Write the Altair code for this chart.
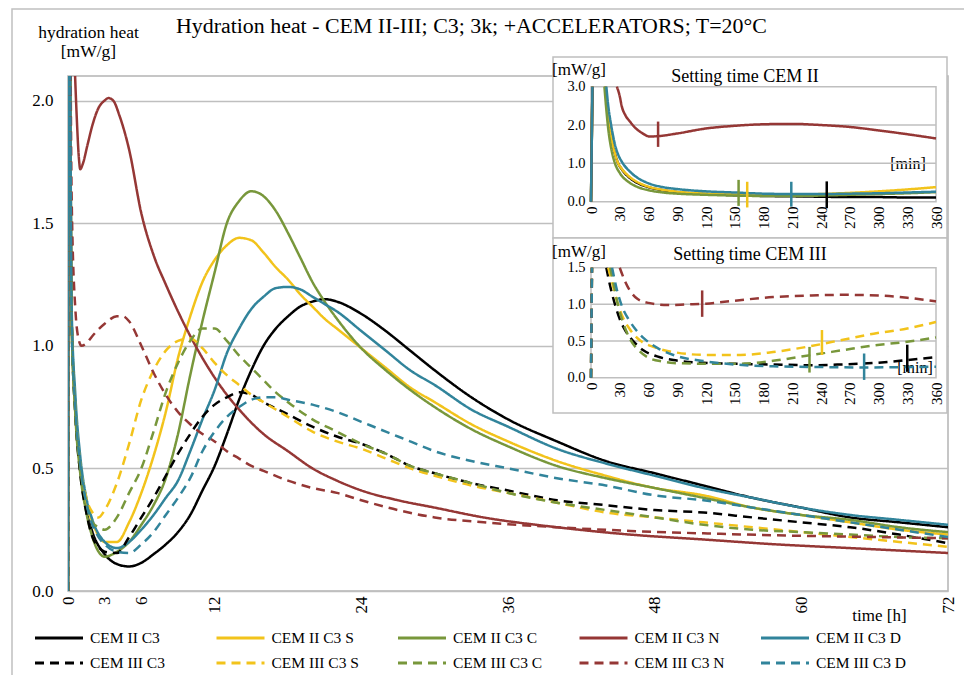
import altair as alt
import pandas as pd

FONT = "Liberation Serif"
GRID = "#BFBFBF"

series = ["CEM II C3", "CEM II C3 S", "CEM II C3 C", "CEM II C3 N", "CEM II C3 D",
          "CEM III C3", "CEM III C3 S", "CEM III C3 C", "CEM III C3 N", "CEM III C3 D"]
colors = ["#000000", "#F2C31B", "#78973B", "#953735", "#31849B"] * 2
dashes = [[1, 0]] * 5 + [[9, 6]] * 5
legend_col = [0, 1, 2, 3, 4, 0, 1, 2, 3, 4]
legend_row = [0, 0, 0, 0, 0, 1, 1, 1, 1, 1]

# ---------------- main chart (time in hours) ----------------
x_ticks_h = [0, 3, 6, 12, 24, 36, 48, 60, 72]
y_ticks_main = [0, 0.5, 1.0, 1.5, 2.0]

t_ii = [0, 0.05, 0.3, 0.6, 1, 1.5, 2, 3, 4, 5, 6, 7, 8, 9, 10, 11, 12, 13, 14, 15, 16, 17, 18, 19, 20, 21, 22,
        24, 26, 28, 30, 33, 36, 40, 44, 48, 52, 56, 60, 64, 68, 72]
v_ii_c3 = [0, 3.2, 1.1, 0.75, 0.5, 0.33, 0.24, 0.15, 0.11, 0.1, 0.115, 0.15, 0.19, 0.24, 0.31, 0.41, 0.51, 0.64,
           0.78, 0.9, 1.0, 1.07, 1.12, 1.16, 1.18, 1.19, 1.18, 1.13, 1.06, 0.98, 0.9, 0.79, 0.7, 0.61, 0.53, 0.48,
           0.43, 0.38, 0.34, 0.3, 0.28, 0.26]
v_ii_c3_s = [0, 3.2, 1.1, 0.75, 0.52, 0.36, 0.28, 0.2, 0.2, 0.28, 0.4, 0.55, 0.73, 0.95, 1.12, 1.26, 1.35, 1.41,
             1.44, 1.43, 1.38, 1.32, 1.27, 1.21, 1.16, 1.11, 1.07, 0.99, 0.91, 0.83, 0.77, 0.68, 0.61, 0.53, 0.47,
             0.42, 0.39, 0.34, 0.31, 0.28, 0.25, 0.23]
v_ii_c3_c = [0, 3.2, 1.1, 0.72, 0.48, 0.32, 0.22, 0.14, 0.16, 0.2, 0.27, 0.35, 0.46, 0.64, 0.88, 1.1, 1.3, 1.5,
             1.59, 1.63, 1.61, 1.55, 1.46, 1.36, 1.26, 1.18, 1.11, 0.99, 0.9, 0.82, 0.75, 0.66, 0.59, 0.51, 0.46,
             0.42, 0.38, 0.34, 0.31, 0.29, 0.26, 0.24]
v_ii_c3_d = [0, 3.2, 1.15, 0.8, 0.55, 0.38, 0.29, 0.2, 0.175, 0.2, 0.25, 0.31, 0.38, 0.45, 0.57, 0.7, 0.82, 0.97,
             1.07, 1.15, 1.2, 1.235, 1.24, 1.23, 1.2, 1.17, 1.14, 1.06, 0.98, 0.9, 0.84, 0.74, 0.67, 0.58, 0.52,
             0.47, 0.42, 0.38, 0.34, 0.31, 0.29, 0.27]

t_ii_n = [0, 0.05, 0.45, 0.7, 0.9, 1.0, 1.2, 1.6, 2.0, 2.5, 3.0, 3.3, 3.7, 4.2, 5, 6, 7, 8, 9, 10, 11, 12, 13, 14,
          16, 18, 20, 22, 24, 27, 30, 34, 40, 46, 52, 58, 64, 72]
v_ii_c3_n = [0, 3.2, 2.3, 1.95, 1.76, 1.72, 1.74, 1.82, 1.9, 1.97, 2.0, 2.01, 2.0, 1.94, 1.8, 1.54, 1.37, 1.25,
             1.14, 1.04, 0.95, 0.87, 0.8, 0.74, 0.64, 0.57, 0.5, 0.45, 0.41, 0.37, 0.34, 0.3, 0.26, 0.23, 0.21,
             0.19, 0.175, 0.155]

t_iii = [0, 0.05, 0.3, 0.6, 1, 1.5, 2, 2.5, 3, 4, 5, 6, 7, 8, 9, 10, 11, 12, 13, 14, 15, 16, 17, 18, 20, 22, 24,
         26, 28, 30, 33, 36, 40, 44, 48, 52, 56, 60, 64, 68, 72]
v_iii_c3 = [0, 3.2, 1.1, 0.72, 0.48, 0.32, 0.22, 0.18, 0.16, 0.155, 0.22, 0.3, 0.38, 0.47, 0.56, 0.64, 0.71, 0.76,
            0.79, 0.81, 0.8, 0.77, 0.745, 0.72, 0.67, 0.63, 0.6, 0.56, 0.51, 0.48, 0.44, 0.41, 0.37, 0.35, 0.33,
            0.32, 0.3, 0.28, 0.26, 0.23, 0.195]
v_iii_c3_s = [0, 3.2, 1.1, 0.75, 0.52, 0.38, 0.32, 0.3, 0.33, 0.44, 0.6, 0.78, 0.9, 0.98, 1.02, 1.03, 0.99, 0.93,
              0.88, 0.84, 0.8, 0.77, 0.74, 0.71, 0.65, 0.61, 0.58, 0.54, 0.5, 0.47, 0.43, 0.4, 0.36, 0.32, 0.3,
              0.28, 0.26, 0.24, 0.22, 0.2, 0.18]
v_iii_c3_c = [0, 3.2, 1.1, 0.72, 0.5, 0.36, 0.28, 0.26, 0.25, 0.3, 0.4, 0.5, 0.65, 0.81, 0.93, 1.02, 1.07, 1.07,
              1.02, 0.96, 0.91, 0.86, 0.81, 0.77, 0.7, 0.65, 0.6, 0.56, 0.51, 0.48, 0.44, 0.4, 0.36, 0.33, 0.3,
              0.27, 0.25, 0.24, 0.23, 0.22, 0.215]
v_iii_c3_d = [0, 3.2, 1.1, 0.75, 0.52, 0.36, 0.27, 0.22, 0.19, 0.16, 0.155, 0.19, 0.24, 0.31, 0.38, 0.46, 0.57,
              0.65, 0.71, 0.75, 0.78, 0.79, 0.79, 0.78, 0.76, 0.73, 0.69, 0.65, 0.61, 0.57, 0.53, 0.5, 0.46, 0.43,
              0.39, 0.37, 0.34, 0.31, 0.28, 0.25, 0.22]

t_iii_n = [0, 0.05, 0.3, 0.6, 0.9, 1.1, 1.5, 2, 3, 4, 4.5, 5, 6, 7, 8, 9, 10, 11, 12, 13, 14, 15, 16, 18, 20, 22,
           24, 27, 30, 34, 40, 46, 52, 60, 66, 72]
v_iii_c3_n = [0, 3.2, 1.6, 1.15, 1.02, 1.0, 1.01, 1.04, 1.09, 1.12, 1.12, 1.1, 1.0, 0.89, 0.8, 0.73, 0.68, 0.64,
              0.61, 0.57, 0.54, 0.51, 0.49, 0.45, 0.42, 0.4, 0.37, 0.33, 0.3, 0.28, 0.26, 0.245, 0.235, 0.225,
              0.22, 0.215]

main_curves = [
    ("CEM II C3", t_ii, v_ii_c3), ("CEM II C3 S", t_ii, v_ii_c3_s), ("CEM II C3 C", t_ii, v_ii_c3_c),
    ("CEM II C3 N", t_ii_n, v_ii_c3_n), ("CEM II C3 D", t_ii, v_ii_c3_d),
    ("CEM III C3", t_iii, v_iii_c3), ("CEM III C3 S", t_iii, v_iii_c3_s), ("CEM III C3 C", t_iii, v_iii_c3_c),
    ("CEM III C3 N", t_iii_n, v_iii_c3_n), ("CEM III C3 D", t_iii, v_iii_c3_d),
]

# ---------------- inset 1: setting time CEM II (minutes) ----------------
min_ticks = list(range(0, 361, 30))
inset1_y_ticks = [0, 1, 2, 3]
inset1_grid = [1, 2]
spike1_m = [0, 1.5]
spike1_v = [0, 3.0]
i1_c3_m = [15, 17, 19, 22, 25, 28, 32, 40, 50, 60, 75, 90, 120, 150, 180, 210, 240, 270, 300, 330, 360]
i1_c3_v = [3.0, 2.5, 2.0, 1.55, 1.25, 1.02, 0.85, 0.63, 0.47, 0.38, 0.3, 0.25, 0.2, 0.17, 0.15, 0.14, 0.13, 0.12,
           0.12, 0.11, 0.11]
i1_s_m = [15, 17, 19, 22, 25, 28, 32, 40, 50, 60, 75, 90, 120, 150, 180, 210, 240, 270, 300, 330, 360]
i1_s_v = [3.0, 2.5, 2.0, 1.55, 1.25, 1.02, 0.86, 0.65, 0.49, 0.39, 0.31, 0.26, 0.21, 0.19, 0.18, 0.18, 0.2, 0.23,
          0.27, 0.32, 0.38]
i1_c_m = [14, 16, 18, 21, 25, 30, 40, 50, 60, 75, 90, 120, 150, 180, 210, 240, 270, 300, 330, 360]
i1_c_v = [3.0, 2.4, 1.9, 1.4, 1.0, 0.75, 0.5, 0.37, 0.3, 0.24, 0.21, 0.18, 0.16, 0.15, 0.15, 0.16, 0.18, 0.2,
          0.22, 0.25]
i1_n_m = [27, 30, 32, 36, 41, 46, 51, 56, 61, 70, 90, 120, 150, 180, 210, 240, 270, 300, 330, 360]
i1_n_v = [3.0, 2.75, 2.5, 2.25, 2.08, 1.93, 1.83, 1.75, 1.7, 1.71, 1.78, 1.91, 1.98, 2.02, 2.03, 2.0, 1.95, 1.86,
          1.76, 1.65]
i1_d_m = [16, 18, 21, 24, 28, 32, 40, 50, 60, 75, 90, 120, 150, 180, 210, 240, 270, 300, 330, 360]
i1_d_v = [3.0, 2.5, 2.0, 1.6, 1.25, 1.05, 0.8, 0.6, 0.48, 0.38, 0.33, 0.27, 0.24, 0.21, 0.2, 0.2, 0.21, 0.22,
          0.24, 0.26]
inset1_curves = [("CEM II C3", i1_c3_m, i1_c3_v), ("CEM II C3 S", i1_s_m, i1_s_v), ("CEM II C3 C", i1_c_m, i1_c_v),
                 ("CEM II C3 N", i1_n_m, i1_n_v), ("CEM II C3 D", i1_d_m, i1_d_v)]
set1_series = ["CEM II C3 N", "CEM II C3 C", "CEM II C3 S", "CEM II C3 D", "CEM II C3"]
set1_min = [70, 154, 163, 209, 246]
set1_lo = [1.43, -0.11, -0.15, -0.13, -0.17]
set1_hi = [2.09, 0.57, 0.52, 0.52, 0.53]

# ---------------- inset 2: setting time CEM III (minutes) ----------------
inset2_y_ticks = [0, 0.5, 1.0, 1.5]
inset2_grid = [0.5, 1.0]
spike2_m = [0, 1]
spike2_v = [0, 1.5]
i2_c3_m = [16, 20, 25, 30, 36, 44, 55, 69, 86, 121, 150, 190, 230, 260, 295, 330, 360]
i2_c3_v = [1.5, 1.25, 1.0, 0.8, 0.64, 0.5, 0.37, 0.29, 0.24, 0.2, 0.19, 0.18, 0.17, 0.18, 0.2, 0.24, 0.28]
i2_s_m = [18, 22, 27, 33, 40, 51, 65, 86, 121, 156, 190, 225, 260, 295, 330, 360]
i2_s_v = [1.5, 1.3, 1.05, 0.83, 0.67, 0.51, 0.42, 0.35, 0.31, 0.31, 0.35, 0.42, 0.51, 0.6, 0.67, 0.76]
i2_c_m = [20, 24, 28, 33, 41, 50, 62, 75, 86, 121, 156, 190, 225, 260, 295, 330, 360]
i2_c_v = [1.5, 1.25, 1.0, 0.77, 0.52, 0.37, 0.26, 0.22, 0.2, 0.19, 0.19, 0.23, 0.3, 0.37, 0.44, 0.49, 0.55]
i2_n_m = [30, 35, 40, 48, 60, 80, 100, 120, 150, 190, 230, 260, 300, 330, 360]
i2_n_v = [1.5, 1.33, 1.2, 1.08, 1.02, 0.99, 1.0, 1.01, 1.05, 1.1, 1.12, 1.13, 1.12, 1.09, 1.04]
i2_d_m = [22, 27, 33, 40, 47, 55, 70, 86, 121, 150, 190, 240, 285, 330, 360]
i2_d_v = [1.5, 1.2, 0.95, 0.78, 0.65, 0.54, 0.4, 0.31, 0.22, 0.18, 0.155, 0.145, 0.14, 0.145, 0.15]
inset2_curves = [("CEM III C3", i2_c3_m, i2_c3_v), ("CEM III C3 S", i2_s_m, i2_s_v),
                 ("CEM III C3 C", i2_c_m, i2_c_v), ("CEM III C3 N", i2_n_m, i2_n_v),
                 ("CEM III C3 D", i2_d_m, i2_d_v)]
set2_series = ["CEM III C3 N", "CEM III C3 C", "CEM III C3 S", "CEM III C3 D", "CEM III C3"]
set2_min = [116, 228, 241, 285, 330]
set2_lo = [0.83, 0.07, 0.31, -0.03, 0.08]
set2_hi = [1.19, 0.42, 0.65, 0.33, 0.45]

# ---------------- build tables ----------------
main_rows = []
for name, ts, vs in main_curves:
    for t, v in zip(ts, vs):
        main_rows.append({"s": name, "t": t, "v": v})
main_df = pd.DataFrame(main_rows)


def inset_table(curves, sm, sv):
    rows = []
    for name, ms, vs in curves:
        for m, v in zip(sm, sv):
            rows.append({"s": name, "p": "spike", "m": m, "v": v})
        for m, v in zip(ms, vs):
            rows.append({"s": name, "p": "body", "m": m, "v": v})
    return pd.DataFrame(rows)


i1_df = inset_table(inset1_curves, spike1_m, spike1_v)
i2_df = inset_table(inset2_curves, spike2_m, spike2_v)
set1_df = pd.DataFrame({"s": set1_series, "m": set1_min, "lo": set1_lo, "hi": set1_hi})
set2_df = pd.DataFrame({"s": set2_series, "m": set2_min, "lo": set2_lo, "hi": set2_hi})
legend_df = pd.DataFrame({"s": series, "c": legend_col, "r": legend_row})

one = pd.DataFrame({"k": [0]})

# ---------------- shared encodings ----------------
color_enc = alt.Color("s:N", scale=alt.Scale(domain=series, range=colors), legend=None)
dash_enc = alt.StrokeDash("s:N", scale=alt.Scale(domain=series, range=dashes), legend=None)

# ---------------- main layer ----------------
main_lines = alt.Chart(main_df).mark_line(strokeWidth=2.5, clip=True, interpolate="monotone").encode(
    x=alt.X("t:Q", scale=alt.Scale(domain=[0, 72], nice=False, zero=False),
            axis=alt.Axis(orient="bottom", values=x_ticks_h, labelAngle=270, labelFontSize=17,
                          labelPadding=5, ticks=False, domain=False, grid=False, labelOverlap=False,
                          labelFlush=False, title="time [h]", titleFontSize=17, titleFontWeight="normal",
                          titleAngle=0, titleX=811, titleY=24, titleAlign="center",
                          titleBaseline="middle")),
    y=alt.Y("v:Q", scale=alt.Scale(domain=[0, 2.1], nice=False),
            axis=alt.Axis(orient="left", values=y_ticks_main, format=".1f", labelFontSize=17,
                          labelPadding=15, ticks=False, domain=False, grid=True, gridColor=GRID,
                          gridWidth=1.5, labelOverlap=False, labelFlush=False,
                          title=["hydration heat", "[mW/g]"], titleFontSize=17.5,
                          titleFontWeight="normal", titleAngle=0, titleX=20, titleY=-53,
                          titleAlign="center", titleBaseline="top", titleLineHeight=19)),
    color=color_enc,
    strokeDash=dash_enc,
)

outer_frame = alt.Chart(one).mark_rect(fill=None, stroke="#C0C0C0", strokeWidth=1.5).encode(
    x=alt.value(-56), x2=alt.value(910), y=alt.value(-67), y2=alt.value(620))

inset_bg = alt.layer(
    alt.Chart(one).mark_rect(fill="white", stroke="#BFBFBF", strokeWidth=1.5).encode(
        x=alt.value(485), x2=alt.value(879), y=alt.value(-19), y2=alt.value(162)),
    alt.Chart(one).mark_rect(fill="white", stroke="#BFBFBF", strokeWidth=1.5).encode(
        x=alt.value(485), x2=alt.value(879), y=alt.value(162), y2=alt.value(337)),
    alt.Chart(one).mark_rect(fill=None, stroke=GRID, strokeWidth=1.5).encode(
        x=alt.value(523), x2=alt.value(868), y=alt.value(10.7), y2=alt.value(125.7)),
    alt.Chart(one).mark_rect(fill=None, stroke=GRID, strokeWidth=1.5).encode(
        x=alt.value(523), x2=alt.value(868), y=alt.value(191.7), y2=alt.value(301.7)),
)


def inset(curves_df, marks_df, grid_vals, y_dom, y_rng, y_vals, axis_offset_y):
    xs = alt.Scale(domain=[0, 360], range=[523, 868], nice=False, zero=False)
    ys = alt.Scale(domain=y_dom, range=y_rng, nice=False, zero=False)
    ax_x = alt.Axis(orient="bottom", offset=axis_offset_y, values=min_ticks, labelAngle=270,
                    labelFontSize=15, labelPadding=4, ticks=False, domain=False, grid=False,
                    labelOverlap=False, labelFlush=False, title=None, zindex=1)
    ax_y = alt.Axis(orient="left", offset=-523, values=y_vals, format=".1f", labelFontSize=14.5,
                    labelPadding=6, ticks=False, domain=False, grid=False, labelOverlap=False,
                    labelFlush=False, title=None, zindex=1)
    grid = alt.Chart(pd.DataFrame({"g": grid_vals})).mark_rule(color=GRID, strokeWidth=1.5).encode(
        y=alt.Y("g:Q", scale=ys, axis=ax_y), x=alt.value(523), x2=alt.value(868))
    lines = alt.Chart(curves_df).mark_line(strokeWidth=2.5, interpolate="monotone").encode(
        x=alt.X("m:Q", scale=xs, axis=ax_x), y=alt.Y("v:Q", scale=ys, axis=ax_y),
        color=color_enc, strokeDash=dash_enc, detail="p:N")
    ticks = alt.Chart(marks_df).mark_rule(strokeWidth=2.5).encode(
        x=alt.X("m:Q", scale=xs, axis=ax_x), y=alt.Y("lo:Q", scale=ys, axis=ax_y), y2="hi:Q",
        color=color_enc)
    return alt.layer(grid, lines, ticks)


inset1 = inset(i1_df, set1_df, inset1_grid, [0, 3], [125.7, 10.7], inset1_y_ticks, -389)
inset2 = inset(i2_df, set2_df, inset2_grid, [0, 1.5], [301.7, 191.7], inset2_y_ticks, -213)

# ---------------- legend (two rows of five) ----------------
lx = alt.Scale(domain=[0, 4], range=[-33, 693], nice=False, zero=False)
ly = alt.Scale(domain=[0, 1], range=[562, 587], nice=False, zero=False)
legend_syms = alt.Chart(legend_df).mark_rule(strokeWidth=3, x2Offset=48).encode(
    x=alt.X("c:Q", scale=lx, axis=None), x2="c:Q",
    y=alt.Y("r:Q", scale=ly, axis=None),
    color=color_enc, strokeDash=dash_enc)
legend_txt = alt.Chart(legend_df).mark_text(
    font=FONT, fontSize=15.5, align="left", baseline="middle", dx=55, color="#000000").encode(
    x=alt.X("c:Q", scale=lx, axis=None), y=alt.Y("r:Q", scale=ly, axis=None), text="s:N")
legend_layer = alt.layer(legend_syms, legend_txt)


def label(txt, x, y, size, align="center", baseline="middle"):
    return alt.Chart(pd.DataFrame({"txt": [txt]})).mark_text(
        font=FONT, fontSize=size, align=align, baseline=baseline, color="#000000").encode(
        text="txt:N", x=alt.value(x), y=alt.value(y))


texts = [
    label("Hydration heat - CEM II-III; C3; 3k; +ACCELERATORS; T=20°C", 108, -43, 21.9, "left", "alphabetic"),
    label("[mW/g]", 484, -6, 17, "left"),
    label("Setting time CEM II", 677, 1, 18),
    label("[min]", 840, 88, 16),
    label("[mW/g]", 484, 176, 17, "left"),
    label("Setting time CEM III", 682, 179, 18),
    label("[min]", 847, 292, 16),
]

chart = alt.layer(
    outer_frame, main_lines, inset_bg, *texts, inset1, inset2, legend_layer
).resolve_scale(x="independent", y="independent").properties(
    width=880, height=515, autosize="none",
    padding={"left": 68, "top": 76, "right": 16, "bottom": 84},
).configure_view(stroke="#B4B4B4", strokeWidth=1.5).configure_axis(
    labelFont=FONT, titleFont=FONT, labelColor="#000000", titleColor="#000000"
).configure_text(font=FONT)

chart.save("out.html", embed_options={"renderer": "svg", "actions": False})
